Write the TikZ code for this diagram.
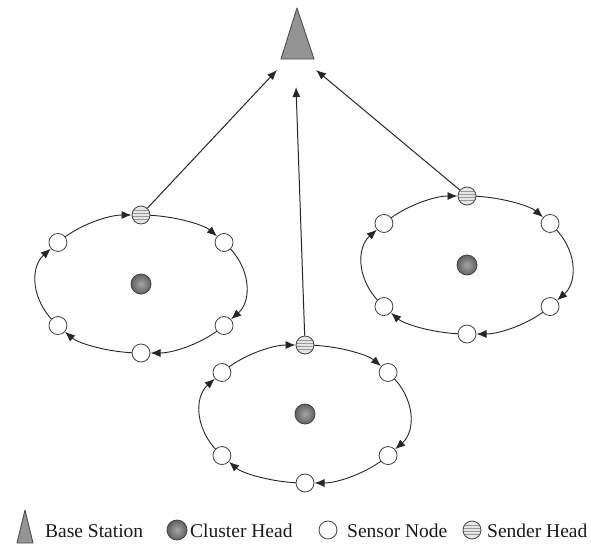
\documentclass[tikz,border=0pt]{standalone}
\usepackage{fontspec}
\setmainfont{Liberation Serif}
\usetikzlibrary{arrows.meta,calc}
\tikzset{
  flow/.style={draw=black!85, line width=0.9pt, shorten >=9.5pt, -{Latex[length=10pt,width=8pt]}},
  uplink/.style={draw=black!85, line width=1pt, -{Latex[length=10pt,width=8pt]}},
  sensor/.style={circle, draw=black!75, line width=0.8pt, fill=white, minimum size=18pt, inner sep=0pt},
  chead/.style={circle, draw=black!75, line width=0.8pt, inner color=black!35, outer color=black!62, minimum size=20pt, inner sep=0pt},
  shead/.style={circle, draw=black!75, line width=0.8pt, fill=black!10, minimum size=18pt, inner sep=0pt,
    path picture={\foreach \s in {-4.5,-1.5,1.5,4.5}{\draw[black!40,line width=1pt] ($(path picture bounding box.center)+(-10pt,\s pt)$) -- ++(20pt,0pt);}}},
  bstation/.style={draw=black!70, line width=0.9pt, fill=black!42, line join=round},
  legendtext/.style={anchor=base west, inner sep=0pt, font=\fontsize{19.5}{22}\selectfont, text=black!90},
}
\newcommand\drawcluster[3]{%
  \coordinate (#1c) at (#2,#3);
  \foreach \a/\b in {-143/-90,-90/-37,-37/37,37/90,90/143,143/217}
    \draw[flow] ($(#1c)+(\a:104 and 69)$) arc[start angle=\a,end angle=\b,x radius=104,y radius=69];
  \node[chead] (#1ch) at (#1c) {};
  \node[shead] (#1s) at ($(#1c)+(-90:104 and 69)$) {};
  \node[sensor] (#1rt) at ($(#1c)+(-37:104 and 69)$) {};
  \node[sensor] (#1rb) at ($(#1c)+(37:104 and 69)$) {};
  \node[sensor] (#1b) at ($(#1c)+(90:104 and 69)$) {};
  \node[sensor] (#1lb) at ($(#1c)+(143:104 and 69)$) {};
  \node[sensor] (#1lt) at ($(#1c)+(217:104 and 69)$) {};
}
\begin{document}
\begin{tikzpicture}[x=1pt,y=-1pt]
\useasboundingbox[fill=white] (0,0) rectangle (591,547);
% base station
\draw[bstation] (297,8) -- (314,59) -- (281,59) -- cycle;
\coordinate (t1) at (277,70);
\coordinate (t2) at (296,87);
\coordinate (t3) at (316,70);
% clusters
\drawcluster{L}{141}{284}
\drawcluster{R}{467}{265}
\drawcluster{M}{305}{414}
% uplinks
\draw[uplink] (Ls) -- (t1);
\draw[uplink] (Ms) -- (t2);
\draw[uplink] (Rs) -- (t3);
% legend
\draw[bstation] (25,510) -- (33,543) -- (17,543) -- cycle;
\node[legendtext] (lg1) at (45,537) {Base Station};
\node[chead] (lgc) at (177,530) {};
\node[legendtext] (lg2) at (190,537) {Cluster Head};
\node[sensor] (lgs) at (328,530) {};
\node[legendtext] (lg3) at (347,537) {Sensor Node};
\node[shead] (lgh) at (472,530) {};
\node[legendtext] (lg4) at (487,537) {Sender Head};
\end{tikzpicture}
\end{document}
